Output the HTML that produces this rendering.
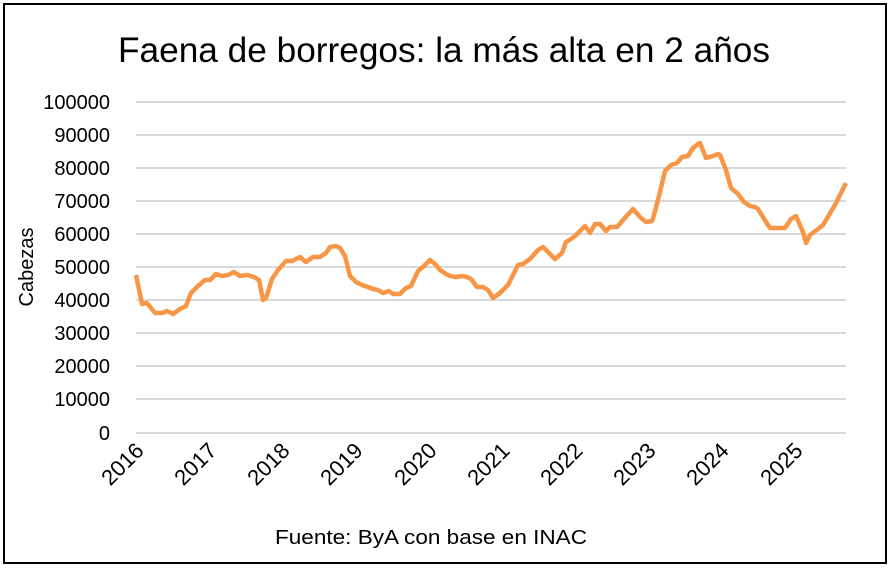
<!DOCTYPE html><html><head><style>body{margin:0;background:#fff}svg text{font-family:"Liberation Sans",sans-serif}</style></head><body>
<svg width="893" height="570" viewBox="0 0 893 570" xmlns="http://www.w3.org/2000/svg">
<rect x="0" y="0" width="893" height="570" fill="#fff"/>
<rect x="4" y="4" width="882" height="559" fill="none" stroke="#000" stroke-width="2"/>
<text x="444" y="62" font-size="35" text-anchor="middle" fill="#000" textLength="652" lengthAdjust="spacingAndGlyphs">Faena de borregos: la más alta en 2 años</text>
<g stroke="#d9d9d9" stroke-width="2">
<line x1="136" x2="846" y1="102" y2="102"/><line x1="136" x2="846" y1="135" y2="135"/><line x1="136" x2="846" y1="168" y2="168"/><line x1="136" x2="846" y1="201" y2="201"/><line x1="136" x2="846" y1="234" y2="234"/><line x1="136" x2="846" y1="267" y2="267"/><line x1="136" x2="846" y1="300" y2="300"/><line x1="136" x2="846" y1="333" y2="333"/><line x1="136" x2="846" y1="366" y2="366"/><line x1="136" x2="846" y1="399" y2="399"/><line x1="136" x2="846" y1="433" y2="433"/>
</g>
<g font-size="20" text-anchor="end" fill="#000">
<text x="110" y="109">100000</text><text x="110" y="142">90000</text><text x="110" y="175">80000</text><text x="110" y="208">70000</text><text x="110" y="241">60000</text><text x="110" y="274">50000</text><text x="110" y="307">40000</text><text x="110" y="340">30000</text><text x="110" y="373">20000</text><text x="110" y="406">10000</text><text x="110" y="440">0</text>
</g>
<text transform="translate(33,267) rotate(-90)" font-size="20" text-anchor="middle">Cabezas</text>
<g font-size="22" text-anchor="end">
<text transform="translate(145,452) rotate(-45)">2016</text>
<text transform="translate(218,452) rotate(-45)">2017</text>
<text transform="translate(291,452) rotate(-45)">2018</text>
<text transform="translate(364,452) rotate(-45)">2019</text>
<text transform="translate(438,452) rotate(-45)">2020</text>
<text transform="translate(511,452) rotate(-45)">2021</text>
<text transform="translate(584,452) rotate(-45)">2022</text>
<text transform="translate(657,452) rotate(-45)">2023</text>
<text transform="translate(730,452) rotate(-45)">2024</text>
<text transform="translate(804,452) rotate(-45)">2025</text>
</g>
<polyline fill="none" stroke="#f79646" stroke-width="4.5" stroke-linejoin="round" points="136,275 142,304 147,303 155,313 162,313 167,311 173,314 180,309 186,306 191,293 198,286 205,280 210,280 216,274 222,276 228,275 234,272 240,276 247,275 254,277 259,280 263,300 266,298 272,279 278,270 286,261 292,261 300,257 306,262 313,257 320,257 326,253 330,247 336,246 340,248 345,256 350,276 356,282 362,285 368,287 373,289 378,290 383,293 389,291 393,294 400,294 406,288 411,286 418,271 424,266 430,260 435,264 440,270 446,274 450,276 456,277 462,276 467,277 471,279 477,287 483,287 488,290 493,298 500,293 508,285 518,265 523,264 530,259 538,250 543,247 550,254 555,259 562,253 566,242 571,239 575,236 585,226 590,233 595,224 600,224 606,231 610,227 617,227 624,219 633,209 640,217 646,222 652,221 654,215 660,192 665,171 671,165 677,163 682,157 688,156 693,148 698,144 700,143 706,158 713,156 718,154 720,155 726,170 731,188 738,194 744,202 750,206 755,207 758,209 766,222 770,228 780,228 785,228 791,219 796,216 803,232 806,243 810,235 818,229 823,225 832,210 836,203 846,183"/>
<text x="431" y="544" font-size="20" text-anchor="middle" textLength="312" lengthAdjust="spacingAndGlyphs">Fuente: ByA con base en INAC</text>
</svg>
</body></html>
